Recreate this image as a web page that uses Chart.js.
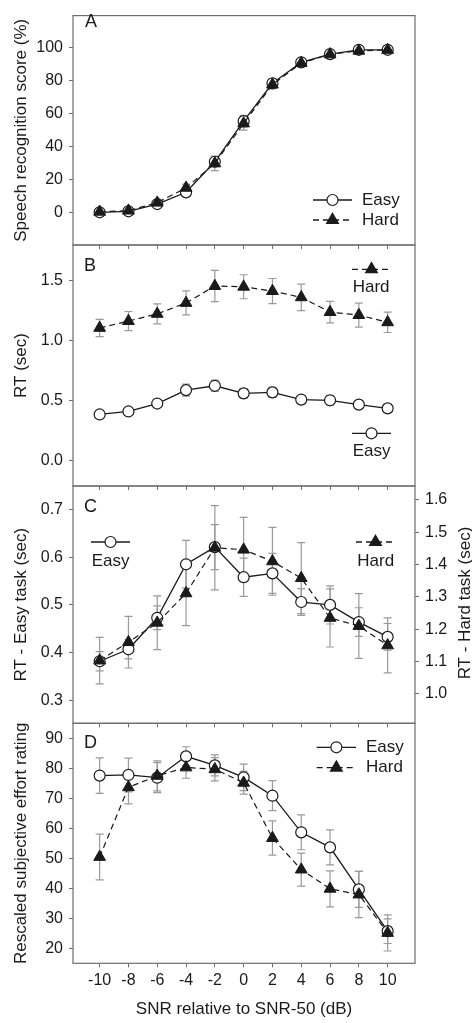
<!DOCTYPE html>
<html>
<head>
<meta charset="utf-8">
<script src="https://cdn.jsdelivr.net/npm/chart.js@4.4.0/dist/chart.umd.min.js"></script>
<style>
    html, body { margin: 0; padding: 0; background: #fff; }
    #wrap { position: relative; width: 472px; height: 1023px; }
    #wrap canvas { position: absolute; left: 0; top: 0; width: 472px; height: 1023px; }
</style>
</head>
<body>
<div id="wrap">
    <canvas id="panelA" width="472" height="1023"></canvas>
    <canvas id="panelB" width="472" height="1023"></canvas>
    <canvas id="panelC" width="472" height="1023"></canvas>
    <canvas id="panelD" width="472" height="1023"></canvas>
</div>
<script>
// Data
const snr = [-10, -8, -6, -4, -2, 0, 2, 4, 6, 8, 10];

const scoreEasy = [0.2, 0.8, 5.2, 12.3, 30.8, 55.4, 78.3, 91, 96, 98.6, 98.6];
const scoreEasyErr = [0.5, 0.8, 1, 1.5, 2.8, 3.5, 2.5, 1.5, 1, 0.8, 0.8];
const scoreHard = [0.5, 1.2, 6, 15, 29.8, 54, 77.5, 90.6, 95.8, 98, 98.5];
const scoreHardErr = [0.5, 0.8, 1.2, 2.2, 4.4, 4, 2.5, 1.5, 1, 1, 1];

const rtEasy = [0.382, 0.407, 0.473, 0.585, 0.621, 0.558, 0.566, 0.506, 0.5, 0.464, 0.433];
const rtEasyErr = [0.02, 0.02, 0.025, 0.05, 0.047, 0.04, 0.042, 0.028, 0.04, 0.03, 0.028];
const rtHard = [1.103, 1.16, 1.22, 1.311, 1.452, 1.446, 1.41, 1.358, 1.235, 1.21, 1.15];
const rtHardErr = [0.072, 0.08, 0.083, 0.1, 0.13, 0.1, 0.105, 0.11, 0.09, 0.1, 0.085];

const effortEasy = [77.6, 77.8, 76.9, 84, 81, 77, 70.9, 58.7, 53.7, 39.7, 25.8];
const effortEasyErr = [5.9, 5.6, 5, 3.2, 3.5, 4.4, 5, 5.8, 5.8, 6, 4.1];
const effortHard = [50.5, 73.7, 77.5, 80.3, 79.7, 75.2, 56.8, 46.3, 39.9, 38, 25.2];
const effortHardErr = [7.6, 5.5, 5, 3.6, 3.9, 3.8, 5.7, 5.5, 6, 7.7, 6];

const snrTicks = [-10, -8, -6, -4, -2, 0, 2, 4, 6, 8, 10];
const scoreTicks = [0, 20, 40, 60, 80, 100];
const rtTicks = [0, 0.5, 1.0, 1.5];
const rtEasyTicks = [0.3, 0.4, 0.5, 0.6, 0.7];
const rtHardTicks = [1.0, 1.1, 1.2, 1.3, 1.4, 1.5, 1.6];
const effortTicks = [20, 30, 40, 50, 60, 70, 80, 90];

const INK = '#1a1a1a';
const FRAME = '#6e6e6e';
const ERR = '#9a9a9a';
const FONT = '"Liberation Sans", Arial, sans-serif';

Chart.defaults.font.family = FONT;
Chart.defaults.color = INK;

function easySet(values, errors, axis) {
    return {
        label: 'Easy',
        data: snr.map((x, i) => ({ x: x, y: values[i] })),
        errors: errors,
        yAxisID: axis || 'y',
        borderColor: INK,
        borderWidth: 1.3,
        pointStyle: 'circle',
        pointRadius: 5.5,
        pointBackgroundColor: '#fff',
        pointBorderColor: INK,
        pointBorderWidth: 1.2,
        tension: 0,
        order: 1
    };
}

function hardSet(values, errors, axis) {
    return {
        label: 'Hard',
        data: snr.map((x, i) => ({ x: x, y: values[i] })),
        errors: errors,
        yAxisID: axis || 'y',
        borderColor: INK,
        borderWidth: 1.2,
        borderDash: [6, 4],
        pointStyle: 'triangle',
        pointRadius: 6.8,
        pointBackgroundColor: INK,
        pointBorderColor: INK,
        pointBorderWidth: 1,
        tension: 0,
        order: 0
    };
}

function xScale(labelled) {
    return {
        type: 'linear',
        min: -11.85,
        max: 11.9,
        afterBuildTicks: s => { s.ticks = snrTicks.map(v => ({ value: v })); },
        afterFit: s => { s.height = labelled ? 59.7 : 4; },
        grid: { display: true, drawOnChartArea: false, drawTicks: true, tickLength: 4, color: FRAME },
        border: { display: false },
        ticks: { display: labelled, font: { size: 16 }, padding: 4, color: INK, maxRotation: 0 },
        title: {
            display: labelled,
            text: 'SNR relative to SNR-50 (dB)',
            font: { size: 17 },
            padding: { top: 0, bottom: 3 },
            color: INK
        }
    };
}

function yScale(min, max, ticks, title, position, decimals) {
    return {
        type: 'linear',
        position: position || 'left',
        min: min,
        max: max,
        afterBuildTicks: s => { s.ticks = ticks.map(v => ({ value: v })); },
        afterFit: s => { s.width = position === 'right' ? 57 : 73; },
        grid: { display: true, drawOnChartArea: false, drawTicks: true, tickLength: 4, color: FRAME },
        border: { display: false },
        ticks: {
            font: { size: 16 },
            padding: 6,
            color: INK,
            callback: v => decimals ? Number(v).toFixed(decimals) : String(v)
        },
        title: {
            display: !!title,
            text: title || '',
            font: { size: 17 },
            padding: { top: 11 },
            color: INK
        }
    };
}

function legendItem(ctx, kind, x1, x2, y, text, tx, ty) {
    ctx.save();
    ctx.strokeStyle = INK;
    ctx.lineWidth = 1.3;
    ctx.setLineDash(kind === 'hard' ? [6, 4] : []);
    ctx.beginPath();
    ctx.moveTo(x1, y);
    ctx.lineTo(x2, y);
    ctx.stroke();
    ctx.setLineDash([]);
    ctx.fillStyle = kind === 'hard' ? INK : '#fff';
    ctx.lineWidth = 1.2;
    Chart.helpers.drawPoint(ctx, {
        pointStyle: kind === 'hard' ? 'triangle' : 'circle',
        radius: kind === 'hard' ? 6.8 : 5.5,
        rotation: 0,
        borderWidth: 1.2
    }, (x1 + x2) / 2, y);
    ctx.fillStyle = INK;
    ctx.font = '17px ' + FONT;
    ctx.textBaseline = 'middle';
    ctx.textAlign = 'left';
    ctx.fillText(text, tx, ty);
    ctx.restore();
}

function panelPlugin(letter, lx, ly, decorate) {
    return {
        id: 'panel' + letter,
        beforeDatasetsDraw(chart) {
            // error bars under the lines
            const ctx = chart.ctx;
            ctx.save();
            ctx.strokeStyle = ERR;
            ctx.lineWidth = 1.2;
            chart.data.datasets.forEach((ds, di) => {
                const meta = chart.getDatasetMeta(di);
                const ys = chart.scales[ds.yAxisID];
                meta.data.forEach((pt, i) => {
                    const v = ds.data[i].y, e = ds.errors[i];
                    const top = ys.getPixelForValue(v + e);
                    const bot = ys.getPixelForValue(v - e);
                    ctx.beginPath();
                    ctx.moveTo(pt.x, top); ctx.lineTo(pt.x, bot);
                    ctx.moveTo(pt.x - 4, top); ctx.lineTo(pt.x + 4, top);
                    ctx.moveTo(pt.x - 4, bot); ctx.lineTo(pt.x + 4, bot);
                    ctx.stroke();
                });
            });
            ctx.restore();
        },
        afterDraw(chart) {
            const ctx = chart.ctx;
            const a = chart.chartArea;
            ctx.save();
            ctx.strokeStyle = FRAME;
            ctx.lineWidth = 1.2;
            ctx.strokeRect(a.left, a.top, a.right - a.left, a.bottom - a.top);
            ctx.fillStyle = INK;
            ctx.font = '18px ' + FONT;
            ctx.textBaseline = 'middle';
            ctx.textAlign = 'left';
            ctx.fillText(letter, lx, ly);
            ctx.restore();
            decorate(ctx);
        }
    };
}

function makePanel(id, datasets, scales, padding, plugin) {
    return new Chart(document.getElementById(id).getContext('2d'), {
        type: 'line',
        data: { datasets: datasets },
        options: {
            responsive: false,
            animation: false,
            events: [],
            layout: { padding: padding, autoPadding: false },
            plugins: { legend: { display: false }, tooltip: { enabled: false } },
            scales: scales
        },
        plugins: [plugin]
    });
}

// Panel A - speech recognition score
makePanel('panelA',
    [easySet(scoreEasy, scoreEasyErr), hardSet(scoreHard, scoreHardErr)],
    { x: xScale(false), y: yScale(-19.6, 119.3, scoreTicks, 'Speech recognition score (%)') },
    { top: 4.3, bottom: 1023 - 245 - 4, left: 0, right: 57 },
    panelPlugin('A', 85, 22.3, ctx => {
        legendItem(ctx, 'easy', 313, 352, 200, 'Easy', 362, 200);
        legendItem(ctx, 'hard', 313, 352, 220, 'Hard', 362, 220);
    })
);

// Panel B - RT, shared axis
makePanel('panelB',
    [easySet(rtEasy, rtEasyErr), hardSet(rtHard, rtHardErr)],
    { x: xScale(false), y: yScale(-0.214, 1.794, rtTicks, 'RT (sec)', 'left', 1) },
    { top: 245, bottom: 1023 - 486 - 4, left: 0, right: 57 },
    panelPlugin('B', 84, 266, ctx => {
        legendItem(ctx, 'hard', 352, 391, 269.3, 'Hard', 352.7, 287.7);
        legendItem(ctx, 'easy', 352, 391, 433.3, 'Easy', 352.7, 451.7);
    })
);

// Panel C - RT, separate axes
makePanel('panelC',
    [easySet(rtEasy, rtEasyErr, 'y'), hardSet(rtHard, rtHardErr, 'y2')],
    {
        x: xScale(false),
        y: yScale(0.252, 0.749, rtEasyTicks, 'RT - Easy task (sec)', 'left', 1),
        y2: yScale(0.909, 1.643, rtHardTicks, null, 'right', 1)
    },
    { top: 486, bottom: 1023 - 723.3 - 4, left: 0, right: 0 },
    panelPlugin('C', 84, 506.7, ctx => {
        legendItem(ctx, 'easy', 91, 130, 542, 'Easy', 91.7, 561);
        legendItem(ctx, 'hard', 356, 395, 542, 'Hard', 357.3, 561);
        ctx.save();
        ctx.translate(465, 603);
        ctx.rotate(-Math.PI / 2);
        ctx.fillStyle = INK;
        ctx.font = '17px ' + FONT;
        ctx.textAlign = 'center';
        ctx.textBaseline = 'middle';
        ctx.fillText('RT - Hard task (sec)', 0, 0);
        ctx.restore();
    })
);

// Panel D - subjective effort
makePanel('panelD',
    [easySet(effortEasy, effortEasyErr), hardSet(effortHard, effortHardErr)],
    { x: xScale(true), y: yScale(15.1, 95.0, effortTicks, 'Rescaled subjective effort rating') },
    { top: 723.3, bottom: 0, left: 0, right: 57 },
    panelPlugin('D', 84, 743.3, ctx => {
        legendItem(ctx, 'easy', 316.7, 356, 747.3, 'Easy', 366, 747.3);
        legendItem(ctx, 'hard', 316.7, 356, 767.7, 'Hard', 366, 767.7);
    })
);
</script>
</body>
</html>
